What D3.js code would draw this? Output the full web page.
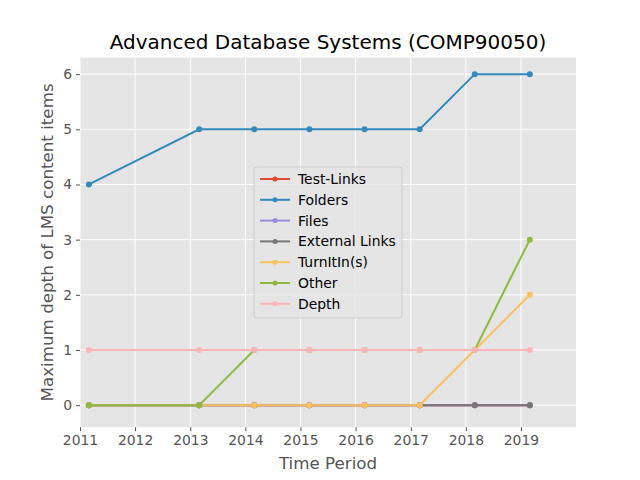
<!DOCTYPE html>
<html>
<head>
<meta charset="utf-8">
<script src="https://cdn.jsdelivr.net/npm/d3@7"></script>
<style>
  body { margin: 0; background: #fff; }
  text { font-family: "DejaVu Sans", sans-serif; }
</style>
</head>
<body>
<div id="chart"></div>
<script>
// data
var dates = ["2011-03-01", "2013-03-01", "2014-03-01", "2015-03-01",
             "2016-03-01", "2017-03-01", "2018-03-01", "2019-03-01"];
var testLinks     = [0, 0, 0, 0, 0, 0, 0, 0];
var folders       = [4, 5, 5, 5, 5, 5, 6, 6];
var files         = [0, 0, 0, 0, 0, 0, 0, 0];
var externalLinks = [0, 0, 0, 0, 0, 0, 0, 0];
var turnitins     = [0, 0, 0, 0, 0, 0, 1, 2];
var other         = [0, 0, 1, 1, 1, 1, 1, 3];
var depth         = [1, 1, 1, 1, 1, 1, 1, 1];
var seriesNames = ["Test-Links", "Folders", "Files", "External Links", "TurnItIn(s)", "Other", "Depth"];
var seriesColors = ["#E24A33", "#348ABD", "#988ED5", "#777777", "#FBC15E", "#8EBA42", "#FFB5B8"];
var yTicks = [0, 1, 2, 3, 4, 5, 6];
var xTickYears = [2011, 2012, 2013, 2014, 2015, 2016, 2017, 2018, 2019];

var parseDate = d3.timeParse("%Y-%m-%d");
var allValues = [testLinks, folders, files, externalLinks, turnitins, other, depth];
var series = seriesNames.map(function(name, i) {
    return {
        name: name,
        color: seriesColors[i],
        values: dates.map(function(d, j) { return { date: parseDate(d), value: allValues[i][j] }; })
    };
});

var width = 640, height = 480;
var plotLeft = 80, plotRight = 576, plotTop = 57.6, plotBottom = 427.2;

var svg = d3.select("#chart").append("svg")
    .attr("width", width)
    .attr("height", height);

var x = d3.scaleTime()
    .domain([new Date(2011, 0, 1), new Date(2020, 0, 1)])
    .range([plotLeft, plotRight]);
var y = d3.scaleLinear()
    .domain([-0.4, 6.3])
    .range([plotBottom, plotTop]);

// background
svg.append("rect")
    .attr("x", plotLeft).attr("y", plotTop)
    .attr("width", plotRight - plotLeft).attr("height", plotBottom - plotTop)
    .attr("fill", "#E5E5E5");

// grid
svg.selectAll(".ygrid").data(yTicks).enter().append("line")
    .attr("x1", plotLeft).attr("x2", plotRight)
    .attr("y1", function(d) { return y(d); }).attr("y2", function(d) { return y(d); })
    .attr("stroke", "white").attr("stroke-width", 1);
svg.selectAll(".xgrid").data(xTickYears).enter().append("line")
    .attr("x1", function(d) { return x(new Date(d, 0, 1)); })
    .attr("x2", function(d) { return x(new Date(d, 0, 1)); })
    .attr("y1", plotTop).attr("y2", plotBottom)
    .attr("stroke", "white").attr("stroke-width", 1);

// axes
var xAxis = d3.axisBottom(x)
    .tickValues(xTickYears.map(function(d) { return new Date(d, 0, 1); }))
    .tickFormat(d3.timeFormat("%Y"))
    .tickSize(4).tickPadding(4);
var yAxis = d3.axisLeft(y).tickValues(yTicks).tickFormat(d3.format("d"))
    .tickSize(4).tickPadding(4);

var gx = svg.append("g").attr("transform", "translate(0," + plotBottom + ")").call(xAxis);
var gy = svg.append("g").attr("transform", "translate(" + plotLeft + ",0)").call(yAxis);
[gx, gy].forEach(function(g) {
    g.select(".domain").remove();
    g.selectAll(".tick line").attr("stroke", "#555");
    g.selectAll(".tick text").attr("fill", "#555").style("font-size", "13.9px")
        .style("font-family", "DejaVu Sans");
});

// lines
var line = d3.line()
    .x(function(d) { return x(d.date); })
    .y(function(d) { return y(d.value); });

series.forEach(function(s) {
    svg.append("path")
        .datum(s.values)
        .attr("d", line)
        .attr("fill", "none")
        .attr("stroke", s.color)
        .attr("stroke-width", 2);
    svg.selectAll(null).data(s.values).enter().append("circle")
        .attr("cx", function(d) { return x(d.date); })
        .attr("cy", function(d) { return y(d.value); })
        .attr("r", 3)
        .attr("fill", s.color);
});

// title and labels
svg.append("text")
    .attr("x", (plotLeft + plotRight) / 2).attr("y", 49)
    .attr("text-anchor", "middle")
    .style("font-size", "20px").attr("fill", "#000")
    .text("Advanced Database Systems (COMP90050)");
svg.append("text")
    .attr("x", (plotLeft + plotRight) / 2).attr("y", 469)
    .attr("text-anchor", "middle")
    .style("font-size", "16.7px").attr("fill", "#555")
    .text("Time Period");
svg.append("text")
    .attr("transform", "translate(53," + ((plotTop + plotBottom) / 2) + ") rotate(-90)")
    .attr("text-anchor", "middle")
    .style("font-size", "16.7px").attr("fill", "#555")
    .text("Maximum depth of LMS content items");

// legend
var lg = svg.append("g").attr("transform", "translate(254,167)");
lg.append("rect")
    .attr("width", 148).attr("height", 151)
    .attr("rx", 3)
    .attr("fill", "#E5E5E5").attr("fill-opacity", 0.8)
    .attr("stroke", "#CCCCCC").attr("stroke-width", 1);
series.forEach(function(s, i) {
    var yy = 12 + i * 20.8;
    lg.append("line")
        .attr("x1", 6).attr("x2", 36).attr("y1", yy).attr("y2", yy)
        .attr("stroke", s.color).attr("stroke-width", 2);
    lg.append("circle").attr("cx", 21).attr("cy", yy).attr("r", 2.5).attr("fill", s.color);
    lg.append("text")
        .attr("x", 44).attr("y", yy + 5)
        .style("font-size", "13.9px").attr("fill", "#000")
        .text(s.name);
});
</script>
</body>
</html>
